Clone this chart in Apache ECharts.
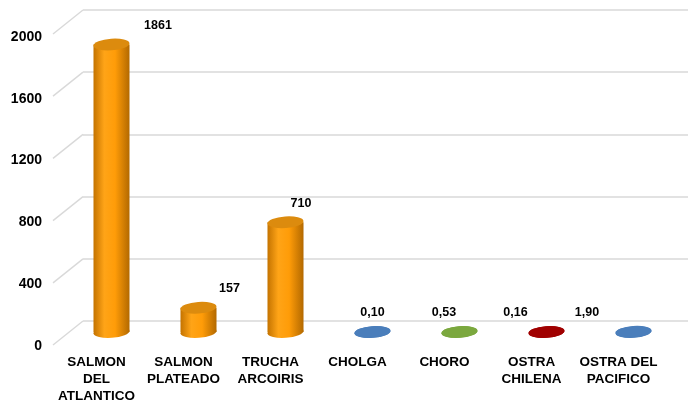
<!DOCTYPE html>
<html><head><meta charset="utf-8">
<script src="https://cdn.jsdelivr.net/npm/echarts@6/dist/echarts.min.js"></script>
<style>html,body{margin:0;padding:0;background:#fff}#c{width:688px;height:400px}</style>
</head><body><div id="c"></div>
<script>
const categories = ['SALMON\nDEL\nATLANTICO','SALMON\nPLATEADO','TRUCHA\nARCOIRIS','CHOLGA','CHORO','OSTRA\nCHILENA','OSTRA DEL\nPACIFICO'];
const values = [1861, 157, 710, 0.10, 0.53, 0.16, 1.90];
const yTicks = [0, 400, 800, 1200, 1600, 2000];
const barColors = ['orange','orange','orange','#4A7EBB','#7BA83E','#A00000','#4A7EBB'];

const FONT = '"Liberation Sans", Arial, sans-serif';
function fmt(v){ return v >= 10 ? String(v) : v.toFixed(2).replace('.', ','); }
function sideFill(c){
  if (c === 'orange') return new echarts.graphic.LinearGradient(0,0,1,0,[
    {offset:0,color:'#C47300'},{offset:0.3,color:'#FFA417'},{offset:0.6,color:'#FF9C08'},{offset:1,color:'#B36900'}]);
  return c;
}
function topFill(c){ return c === 'orange' ? '#DC8B0E' : c; }

const chart = echarts.init(document.getElementById('c'), null, {renderer:'canvas'});
const hidden = {show:false};
chart.setOption({
  animation:false,
  grid:[
    {left:83, right:0, top:10, bottom:79, outerBoundsMode:'none', containLabel:false},
    {left:68, right:11, top:23, bottom:68, outerBoundsMode:'none', containLabel:false},
    {left:53, right:26, top:37, bottom:54, outerBoundsMode:'none', containLabel:false}
  ],
  xAxis:[
    {gridIndex:0, type:'value', min:0, max:1, show:false},
    {gridIndex:1, type:'category', data:categories, show:false},
    {gridIndex:2, type:'category', data:categories,
      axisLine:hidden, axisTick:hidden, splitLine:hidden,
      axisLabel:{interval:0, fontFamily:FONT, fontWeight:'bold', fontSize:13.5, lineHeight:17, color:'#000', margin:8}}
  ],
  yAxis:[
    {gridIndex:0, type:'value', min:0, max:2000, interval:400,
      axisLine:hidden, axisTick:hidden, axisLabel:hidden,
      splitLine:{show:true, lineStyle:{color:'#d9d9d9', width:1.5}}},
    {gridIndex:1, type:'value', min:0, max:2000, interval:400, show:false, splitLine:hidden},
    {gridIndex:2, type:'value', min:0, max:2000, interval:400,
      axisLine:hidden, axisTick:hidden, splitLine:hidden,
      axisLabel:{fontFamily:FONT, fontWeight:'bold', fontSize:14, color:'#000', margin:11, formatter: v => String(v)}}
  ],
  series:[
    {
      type:'custom', xAxisIndex:0, yAxisIndex:0, silent:true,
      data: yTicks.map(v => [0, v]),
      renderItem(params, api){
        const p = api.coord([0, api.value(1)]);
        const x0 = params.coordSys.x;
        return {type:'line', shape:{x1:x0, y1:p[1], x2:x0-30, y2:p[1]+24},
          style:{stroke:'#d9d9d9', lineWidth:1.5}};
      }
    },
    {
      type:'custom', xAxisIndex:1, yAxisIndex:1, silent:true,
      data: values.map((v,i) => [i, v]),
      renderItem(params, api){
        const i = api.value(0), v = api.value(1);
        const base = api.coord([i, 0]);
        const top = api.coord([i, v]);
        const bw = api.size([1,0])[0] * 0.414;
        const rx = bw/2, ry = 5.8, rot = 0.07;
        const c = barColors[i];
        const side = sideFill(c);
        return {type:'group', children:[
          {type:'circle', shape:{cx:0, cy:0, r:rx}, x:base[0], y:base[1], scaleY:ry/rx, rotation:rot, style:{fill:side}},
          {type:'rect', shape:{x:base[0]-rx, y:top[1], width:bw, height:Math.max(0, base[1]-top[1])}, style:{fill:side}},
          {type:'circle', shape:{cx:0, cy:0, r:rx}, x:top[0], y:top[1], scaleY:ry/rx, rotation:rot, style:{fill:topFill(c)}},
          {type:'text', x: top[0] + (3 - i) * 15.5, y: top[1] - 19,
            style:{text:fmt(v), fill:'#000', font:'bold 12.5px ' + FONT, align:'center', verticalAlign:'middle'}}
        ]};
      }
    }
  ]
});
</script></body></html>
